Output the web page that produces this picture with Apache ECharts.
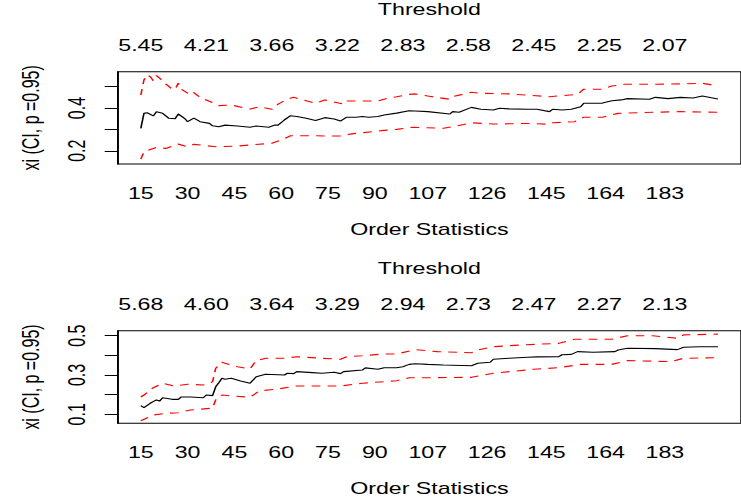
<!DOCTYPE html>
<html>
<head>
<meta charset="utf-8">
<script src="https://cdn.jsdelivr.net/npm/echarts@6/dist/echarts.min.js"></script>
<style>
  html, body { margin: 0; padding: 0; background: #fff; overflow: hidden; }
  /* drawn in a narrow frame, then widened to the 741px page */
  #chart { width: 511px; height: 502px; transform: scaleX(1.4501); transform-origin: 0 0; }
</style>
</head>
<body>
<div id="chart"></div>
<script>
// Order-statistic ticks (bottom) and threshold ticks (top)
const orderTicks = [15, 30, 45, 60, 75, 90, 107, 126, 145, 164, 183];
const thresholdTicks = [15, 36, 57, 78, 99, 120, 141, 162, 183];
const thresholds1 = ["5.45", "4.21", "3.66", "3.22", "2.83", "2.58", "2.45", "2.25", "2.07"];
const thresholds2 = ["5.68", "4.60", "3.64", "3.29", "2.94", "2.73", "2.47", "2.27", "2.13"];
const yTicks1 = [0.2, 0.3, 0.4, 0.5];
const yLabels1 = [0.2, 0.4];
const yTicks2 = [0.1, 0.2, 0.3, 0.4, 0.5];
const yLabels2 = [0.1, 0.3, 0.5];

// Panel 1: shape estimate xi and 95% CI bounds
const kXi1 = [15,16,17,19,20,22,24,26,27,29,30,32,34,37,38,40,42,46,50,52,56,58,59,61,63,65,68,71,74,77,79,81,84,86,88,91,93,97,101,103,107,114,115,117,121,124,128,130,133,139,142,146,147,150,153,156,157,160,163,166,169,171,178,180,184,188,192,195,200];
const xi1 = [0.305,0.375,0.378,0.363,0.383,0.375,0.352,0.350,0.372,0.352,0.336,0.353,0.336,0.328,0.317,0.312,0.320,0.316,0.310,0.316,0.310,0.320,0.320,0.344,0.364,0.360,0.352,0.342,0.355,0.349,0.339,0.357,0.357,0.360,0.357,0.360,0.367,0.376,0.387,0.386,0.383,0.372,0.383,0.380,0.403,0.394,0.391,0.399,0.396,0.394,0.394,0.383,0.394,0.391,0.394,0.406,0.422,0.422,0.423,0.434,0.438,0.444,0.441,0.450,0.444,0.450,0.447,0.456,0.442];
const kUp1 = [15,16,17,18,19,20,21,23,25,26,27,28,31,32,34,38,40,44,50,53,57,59,62,64,67,71,74,80,81,87,91,94,97,101,103,107,114,115,121,124,133,146,155,157,163,166,170,179,188,195,200];
const up1 = [0.461,0.531,0.555,0.547,0.528,0.552,0.540,0.513,0.488,0.488,0.516,0.488,0.461,0.472,0.450,0.425,0.411,0.414,0.395,0.406,0.394,0.418,0.442,0.450,0.438,0.422,0.438,0.418,0.433,0.433,0.433,0.445,0.453,0.464,0.466,0.456,0.441,0.453,0.474,0.469,0.466,0.453,0.464,0.488,0.488,0.503,0.511,0.511,0.513,0.516,0.503];
const kLo1 = [15,16,20,23,27,30,32,39,46,50,57,60,63,71,76,80,82,92,97,102,112,115,121,128,140,146,147,154,157,163,168,179,188,200];
const lo1 = [0.161,0.195,0.216,0.211,0.231,0.219,0.230,0.219,0.222,0.227,0.235,0.250,0.270,0.270,0.269,0.269,0.278,0.294,0.300,0.310,0.305,0.3125,0.331,0.325,0.328,0.324,0.331,0.336,0.357,0.357,0.375,0.380,0.383,0.380];

// Panel 2: shape estimate xi and 95% CI bounds
const kXi2 = [15,16,18,20,21,22,25,27,28,31,35,36,38,39,40,41,42,44,47,50,52,55,61,62,64,65,70,73,77,79,80,86,87,91,93,97,99,101,103,107,112,121,123,127,128,133,139,142,149,150,153,155,160,167,168,171,180,187,189,194,200];
const xi2 = [0.144,0.134,0.156,0.173,0.167,0.184,0.176,0.176,0.188,0.188,0.184,0.198,0.195,0.240,0.261,0.283,0.278,0.283,0.269,0.258,0.291,0.304,0.300,0.309,0.307,0.317,0.312,0.309,0.314,0.307,0.317,0.325,0.336,0.329,0.337,0.337,0.342,0.354,0.357,0.354,0.351,0.347,0.360,0.365,0.380,0.385,0.390,0.392,0.393,0.403,0.405,0.419,0.416,0.419,0.427,0.436,0.434,0.429,0.441,0.444,0.444];
const kUp2 = [15,16,19,22,25,27,30,35,37,38,39,41,42,46,50,52,55,61,65,73,79,81,86,93,97,103,110,121,123,128,137,149,154,166,171,179,187,189,200];
const up2 = [0.188,0.198,0.235,0.258,0.246,0.246,0.253,0.249,0.258,0.266,0.334,0.365,0.360,0.342,0.331,0.373,0.385,0.385,0.393,0.385,0.380,0.393,0.398,0.407,0.407,0.429,0.419,0.413,0.427,0.444,0.453,0.461,0.482,0.482,0.500,0.500,0.487,0.504,0.508];
const kLo2 = [15,19,23,27,31,38,39,41,44,50,53,59,65,79,86,93,97,101,107,121,128,141,149,156,166,171,185,189,200];
const lo2 = [0.067,0.096,0.105,0.108,0.122,0.131,0.173,0.198,0.193,0.187,0.219,0.229,0.244,0.244,0.258,0.266,0.271,0.286,0.286,0.288,0.309,0.329,0.337,0.354,0.354,0.373,0.368,0.385,0.388];

const pairs = (ks, vs) => ks.map((k, i) => [k, vs[i]]);

const FONT = 'Liberation Sans, Arial, Helvetica, sans-serif';
const FS = 16;
const X_MIN = 7.6, X_MAX = 207.4;

function bottomAxis(gridIndex) {
  return {
    type: 'value', gridIndex, position: 'bottom', min: X_MIN, max: X_MAX,
    name: 'Order Statistics', nameLocation: 'middle', nameGap: 57,
    nameTextStyle: { color: '#000', fontFamily: FONT, fontSize: FS },
    axisLine: { show: false }, axisTick: { show: false }, splitLine: { show: false },
    axisLabel: { customValues: orderTicks, margin: 21, color: '#000', fontFamily: FONT, fontSize: FS,
                 formatter: v => String(v) }
  };
}
function topAxis(gridIndex, labels) {
  return {
    type: 'value', gridIndex, position: 'top', min: X_MIN, max: X_MAX,
    name: 'Threshold', nameLocation: 'middle', nameGap: 54,
    nameTextStyle: { color: '#000', fontFamily: FONT, fontSize: FS },
    axisLine: { show: false }, axisTick: { show: false }, splitLine: { show: false },
    axisLabel: { customValues: thresholdTicks, margin: 18, color: '#000', fontFamily: FONT, fontSize: FS,
                 formatter: v => labels[thresholdTicks.indexOf(v)] }
  };
}
function leftAxis(gridIndex, min, max, ticks, labels) {
  return {
    type: 'value', gridIndex, min, max,
    name: 'xi (CI, p =0.95)', nameLocation: 'middle', nameGap: 52,
    nameTextStyle: { color: '#000', fontFamily: FONT, fontSize: FS },
    axisLine: { show: true, lineStyle: { color: '#000', width: 1 } },
    axisTick: { show: true, customValues: ticks, length: 9, inside: false, lineStyle: { color: '#000', width: 1 } },
    splitLine: { show: false },
    axisLabel: { customValues: labels, rotate: 90, margin: 20, color: '#000', fontFamily: FONT, fontSize: FS,
                 formatter: v => v.toFixed(1) }
  };
}
function line(xi, yi, data, color, dashed) {
  return {
    type: 'line', xAxisIndex: xi, yAxisIndex: yi, data, showSymbol: false, symbol: 'none',
    lineStyle: { color, width: 1.1, type: dashed ? [6, 5] : 'solid' }, silent: true
  };
}

const chart = echarts.init(document.getElementById('chart'), null, { renderer: 'svg' });
chart.setOption({
  animation: false,
  backgroundColor: '#fff',
  grid: [
    { left: 81.2, right: -6.7, top: 71.7, height: 92.3, show: true, borderColor: '#000', borderWidth: 1, backgroundColor: 'transparent' },
    { left: 81.2, right: -6.7, top: 330.7, height: 92.6, show: true, borderColor: '#000', borderWidth: 1, backgroundColor: 'transparent' }
  ],
  xAxis: [bottomAxis(0), topAxis(0, thresholds1), bottomAxis(1), topAxis(1, thresholds2)],
  yAxis: [leftAxis(0, 0.138, 0.570, yTicks1, yLabels1), leftAxis(1, 0.054, 0.5254, yTicks2, yLabels2)],
  series: [
    line(0, 0, pairs(kXi1, xi1), '#000', false),
    line(0, 0, pairs(kUp1, up1), '#ff0000', true),
    line(0, 0, pairs(kLo1, lo1), '#ff0000', true),
    line(2, 1, pairs(kXi2, xi2), '#000', false),
    line(2, 1, pairs(kUp2, up2), '#ff0000', true),
    line(2, 1, pairs(kLo2, lo2), '#ff0000', true)
  ]
});
</script>
</body>
</html>
